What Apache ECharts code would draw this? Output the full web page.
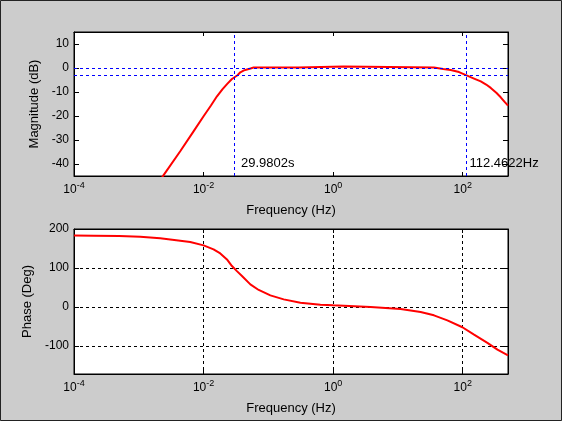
<!DOCTYPE html>
<html>
<head>
<meta charset="utf-8">
<script src="https://cdn.jsdelivr.net/npm/echarts@6/dist/echarts.min.js"></script>
<style>
  html, body { margin: 0; padding: 0; background: #cccccc; }
  #chart { width: 562px; height: 421px; }
</style>
</head>
<body>
<div id="chart"></div>
<script>
// magnitude trace
var magFreq = [0.00224, 0.0024, 0.00436, 0.0070, 0.0100, 0.0130, 0.0161, 0.0195, 0.0230, 0.0274,
  0.0334, 0.0369, 0.0420, 0.0468, 0.0530, 0.0592, 0.291, 0.30, 1.45, 1.50,
  36.0, 38.2, 50.0, 65.2, 87.7, 112.46, 149.6, 190, 230, 271, 330, 386, 440, 500];
var magDb = [-46, -44.75, -34.7, -26.4, -20.1, -15.6, -11.8, -8.9, -6.7, -4.6,
  -3.0, -1.8, -1.0, -0.6, -0.2, 0.2, 0.2, 0.6, 0.6, 0.2,
  0.2, -0.15, -0.4, -0.8, -1.7, -3.0, -4.4, -5.6, -6.9, -8.3, -10.3, -12.2, -14.0, -15.7];

// phase trace
var phaseFreq = [0.0001, 0.0002, 0.0005, 0.00105, 0.00214, 0.00436, 0.00622, 0.0100, 0.01426, 0.01811,
  0.02296, 0.02742, 0.03273, 0.03917, 0.05272, 0.07096, 0.1074, 0.1726, 0.3126, 0.6368,
  1.0, 3.776, 10.99, 22.39, 35.97, 57.94, 98.86, 149.6, 240.4, 343.6, 500];
var phaseDeg = [183.5, 183, 182, 180.3, 176, 170, 166.7, 158, 147.7, 137.4,
  122, 105, 92, 79.5, 58, 43.6, 29.7, 19.5, 11, 5.9,
  4.1, 0, -5, -12.8, -21.5, -34.4, -52, -71, -92, -109.5, -124];

var freqTicks = [1e-4, 1e-2, 1, 100];
var magTicks = [-40, -30, -20, -10, 0, 10];
var phaseTicks = [-100, 0, 100, 200];

// cursor lines and their captions
var cutLow = 1 / 29.9802;
var cutHigh = 112.4622;
var cutLevels = [0, -3];
var cutTexts = ['29.9802s', '112.4622Hz'];

var font = 'Liberation Sans, Arial, sans-serif';

function pairs(xs, ys) {
  return xs.map(function (x, i) { return [x, ys[i]]; });
}

function freqAxis(grid, pos, main, split) {
  return {
    type: 'log', logBase: 10, gridIndex: grid, position: pos,
    min: 1e-4, max: 500,
    name: main ? 'Frequency (Hz)' : '',
    nameLocation: 'middle', nameGap: 28,
    nameTextStyle: { color: '#000', fontSize: 13, fontFamily: font },
    axisLine: { show: true, onZero: false, lineStyle: { color: '#000', width: 1 } },
    axisTick: { show: true, inside: true, length: 4, customValues: freqTicks, lineStyle: { color: '#000' } },
    minorTick: { show: false },
    axisLabel: {
      show: main, margin: 5, customValues: freqTicks,
      color: '#000', fontSize: 12, fontFamily: font,
      formatter: function (v) {
        return '10{s|' + Math.round(Math.log10(v)) + '}';
      },
      rich: { s: { fontSize: 9, fontFamily: font, color: '#000', padding: [0, 0, 8, 0] } }
    },
    splitLine: { show: !!split, lineStyle: { color: '#000', type: [3, 3], width: 1 } }
  };
}

function valAxis(grid, pos, main, lo, hi, ticks, name, gap, split) {
  return {
    type: 'value', gridIndex: grid, position: pos,
    min: lo, max: hi,
    name: main ? name : '',
    nameLocation: 'middle', nameGap: gap,
    nameTextStyle: { color: '#000', fontSize: 13, fontFamily: font },
    axisLine: { show: true, onZero: false, lineStyle: { color: '#000', width: 1 } },
    axisTick: { show: true, inside: true, length: 5, customValues: ticks, lineStyle: { color: '#000' } },
    axisLabel: { show: main, margin: 5, customValues: ticks, color: '#000', fontSize: 12, fontFamily: font },
    splitLine: { show: !!split, lineStyle: { color: '#000', type: [3, 3], width: 1 } }
  };
}

var blue = { color: '#0000ff', type: [3, 3], width: 1 };

var option = {
  backgroundColor: '#cccccc',
  animation: false,
  graphic: [{
    type: 'rect', silent: true,
    shape: { x: 0.5, y: 0.5, width: 561, height: 420 },
    style: { fill: 'none', stroke: '#222', lineWidth: 1 }
  }],
  grid: [
    { left: 74, top: 32, width: 434, height: 144, show: true, backgroundColor: '#fff', borderColor: '#000', borderWidth: 1 },
    { left: 74, top: 229, width: 434, height: 145, show: true, backgroundColor: '#fff', borderColor: '#000', borderWidth: 1 }
  ],
  xAxis: [
    freqAxis(0, 'bottom', true, false),
    freqAxis(0, 'top', false, false),
    freqAxis(1, 'bottom', true, true),
    freqAxis(1, 'top', false, false)
  ],
  yAxis: [
    valAxis(0, 'left', true, -45, 15, magTicks, 'Magnitude (dB)', 27, false),
    valAxis(0, 'right', false, -45, 15, magTicks, '', 0, false),
    valAxis(1, 'left', true, -172, 200, phaseTicks, 'Phase (Deg)', 34, true),
    valAxis(1, 'right', false, -172, 200, phaseTicks, '', 0, false)
  ],
  series: [
    {
      name: 'Magnitude', type: 'line', xAxisIndex: 0, yAxisIndex: 0,
      data: pairs(magFreq, magDb),
      showSymbol: false, clip: true,
      lineStyle: { color: '#ff0000', width: 2 },
      markLine: {
        silent: true, symbol: 'none', animation: false,
        label: { show: false },
        lineStyle: blue,
        data: cutLevels.map(function (v) { return { yAxis: v }; })
          .concat([{ xAxis: cutLow }, { xAxis: cutHigh }])
      },
      markPoint: {
        silent: true, symbol: 'circle', symbolSize: 1,
        itemStyle: { color: 'rgba(0,0,0,0)' },
        label: { show: true, position: 'right', distance: 3, color: '#000', fontSize: 13, fontFamily: font },
        data: [
          { coord: [cutLow, -39.6], label: { formatter: cutTexts[0] } },
          { coord: [cutHigh, -39.6], label: { formatter: cutTexts[1] } }
        ]
      }
    },
    {
      name: 'Phase', type: 'line', xAxisIndex: 2, yAxisIndex: 2,
      data: pairs(phaseFreq, phaseDeg),
      showSymbol: false, clip: true,
      lineStyle: { color: '#ff0000', width: 2 }
    }
  ]
};

var chart = echarts.init(document.getElementById('chart'));
chart.setOption(option);
</script>
</body>
</html>
